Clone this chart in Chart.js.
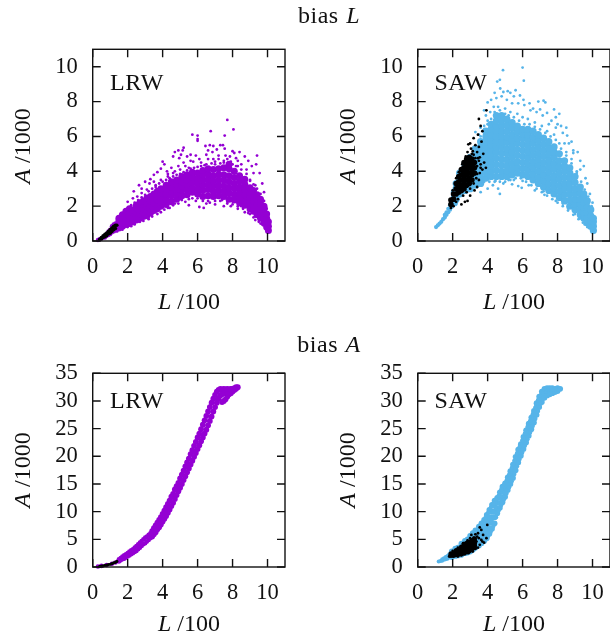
<!DOCTYPE html>
<html>
<head>
<meta charset="utf-8">
<script src="https://cdn.jsdelivr.net/npm/chart.js@4"></script>
<style>
html, body { margin: 0; padding: 0; background: #fff; overflow: hidden; width: 610px; height: 636px; }
canvas { position: absolute; }
.label { position: absolute; font-family: "Liberation Serif", serif; font-size: 24px; color: #111; white-space: nowrap; transform: translate(-50%, -50%); }
.rot { transform: translate(-50%, -50%) rotate(-90deg); }
.tag { font-size: 24px; letter-spacing: 0.6px; }
.head { font-size: 24px; word-spacing: 1px; letter-spacing: 0.5px; }
</style>
</head>
<body>
<canvas id="panel1"></canvas>
<canvas id="panel2"></canvas>
<canvas id="panel3"></canvas>
<canvas id="panel4"></canvas>

<div class="label head" style="left:329px;top:15px">bias <i>L</i></div>
<div class="label head" style="left:329px;top:344px">bias <i>A</i></div>
<div class="label tag" style="left:137px;top:82px">LRW</div>
<div class="label tag" style="left:461px;top:82px">SAW</div>
<div class="label tag" style="left:137px;top:400px">LRW</div>
<div class="label tag" style="left:461px;top:400px">SAW</div>
<div class="label" style="left:189px;top:301px"><i>L</i> /100</div>
<div class="label" style="left:514px;top:301px"><i>L</i> /100</div>
<div class="label" style="left:189px;top:623px"><i>L</i> /100</div>
<div class="label" style="left:514px;top:623px"><i>L</i> /100</div>
<div class="label rot" style="left:22px;top:146px"><i>A</i> /1000</div>
<div class="label rot" style="left:347px;top:146px"><i>A</i> /1000</div>
<div class="label rot" style="left:22px;top:470px"><i>A</i> /1000</div>
<div class="label rot" style="left:347px;top:470px"><i>A</i> /1000</div>

<script>
// Tick labels
const lTicks = [0, 2, 4, 6, 8, 10];
const areaTicksL = [0, 2, 4, 6, 8, 10];
const areaTicksA = [0, 5, 10, 15, 20, 25, 30, 35];

// Colours
const purple = '#9400d3';
const blue = '#56b4e9';
const black = '#000000';

// Dense parts of the clouds, read column by column: [L, [A, A, ...]]
const lrwLTail = [
  [0.3,[.06]],[0.4,[.1]],[0.5,[.15]],[0.6,[.2]],[0.7,[.2,.3]],[0.8,[.3,.4]],[0.9,[.35,.55]],[1.0,[.4,.65]],[1.1,[.5,.7,.85]],[1.2,[.55,.75,.95]],[1.3,[.6,.8,1.0]]
];
const lrwLDense = [
  [1.5,[.75,.95,1.15,1.3]],[1.7,[.85,1.05,1.3,1.5]],[1.9,[.95,1.15,1.35,1.55,1.7]],[2.1,[1.0,1.25,1.45,1.65,1.85]],
  [2.3,[1.1,1.35,1.6,1.8]],[2.5,[1.2,1.4,1.65,1.9,2.05]],[2.7,[1.3,1.55,1.75,2.0,2.2]],[2.9,[1.4,1.6,1.85,2.1,2.3]],
  [3.1,[1.45,1.7,1.95,2.2,2.45]],[3.3,[1.6,1.85,2.05,2.3,2.55]],[3.5,[1.75,2.0,2.2,2.45,2.7]],[3.7,[1.85,2.1,2.35,2.6,2.85]],
  [3.9,[2.0,2.25,2.5,2.75,3.0]],[4.2,[2.1,2.4,2.7,2.95,3.2]],[4.5,[2.25,2.6,2.85,3.1,3.4]],[4.8,[2.4,2.7,3.0,3.25,3.5]],
  [5.1,[2.6,2.9,3.15,3.4,3.7]],[5.4,[2.65,2.95,3.25,3.5,3.8]],[5.7,[2.8,3.05,3.35,3.65,3.95]],[6.0,[2.7,3.0,3.3,3.6,3.9]],
  [6.3,[2.55,2.9,3.2,3.5,3.8,4.05]],[6.6,[2.6,2.95,3.25,3.55,3.85,4.15]],[6.9,[2.55,2.85,3.15,3.45,3.75,4.1]],
  [7.2,[2.6,2.9,3.2,3.5,3.8,4.15]],[7.5,[2.55,2.85,3.15,3.5,3.8,4.2]],[7.8,[2.4,2.75,3.05,3.4,3.75,4.15,4.4]],
  [8.1,[2.35,2.65,3.0,3.3,3.65,4.0]],[8.4,[2.2,2.5,2.8,3.1,3.45,3.75]],[8.7,[2.05,2.35,2.65,2.95,3.25,3.55]],
  [9.0,[1.85,2.15,2.45,2.75,3.05]],[9.2,[1.7,2.0,2.3,2.6,2.9]],[9.4,[1.5,1.8,2.1,2.4,2.65]],[9.6,[1.3,1.55,1.85,2.15,2.4]],
  [9.8,[1.05,1.3,1.6,1.85,2.0]],[9.95,[.8,1.05,1.3,1.55]],[10.05,[.6,.85,1.1]]
];
const lrwLSparse = [
  [7.7,6.95],[8.05,6.4],[6.75,6.3],[7.55,6.05],[5.7,6.1],[6,6.05],[6,5.85],[6,5.75],[5.2,5.35],[5.15,5.2],[4.9,5.2],[4.7,5.1],
  [5.05,4.95],[4.6,4.85],[4.95,4.75],[5.6,4.95],[5.9,4.9],[5.4,4.85],[6.45,5.45],[6.7,5.5],[6.9,5.45],[7.3,5.5],[7.45,5.5],
  [7.55,5.3],[7.1,5.25],[6.6,5.2],[6.85,5.1],[6.5,4.95],[7.2,4.9],[7.6,4.9],[7.85,4.85],[8.0,5.15],[8.1,5.05],[8.4,5.1],
  [8.7,4.85],[9.4,4.9],[8.2,4.75],[8.9,4.6],[9.1,4.3],[9.35,4.4],[9.55,3.9],[9.2,3.9],[9.7,3.3],[9.8,2.8],[4.0,4.55],[4.1,4.4],
  [3.7,3.95],[3.5,3.8],[3.9,4.15],[4.5,4.2],[4.25,4],[3.3,3.55],[3.0,3.4],[3.25,3.3],[2.65,3.2],[2.8,3],[2.35,2.85],[2.8,2.75],
  [3.1,2.95],[2.0,2.25],[2.3,2.45],[2.55,2.55],[3.6,3.2],[3.9,3.5],[4.3,3.7],[4.9,4.3],[5.3,4.3],[5.75,4.55],[6.2,4.5],[6.9,4.7],
  [7.5,4.6],[8.5,4.4],[4.6,3.9],[5.0,4.1],[5.5,4.2],[6.4,4.35],[7.0,4.4],[7.9,4.55],[8.3,4.3],[8.8,4.1],[9.0,3.5],[9.3,3.2],
  [3.2,2.85],[3.4,3.0],[3.6,3.1],[3.8,3.3],[4.0,3.4],[4.2,3.5],[4.4,3.6],[4.6,3.7],[4.8,3.8],[5.0,3.85],[5.2,3.95],[5.4,4.05],
  [5.6,4.15],[5.8,4.2],[6.0,4.25],[6.2,4.3],[6.5,4.4],[6.8,4.45],[7.0,4.55],[7.3,4.45],[7.5,4.5],[7.7,4.7],[8.0,4.4],[8.2,4.3],
  [8.5,4.1],[8.8,3.85],[9.0,3.45],[9.2,3.25],[9.4,3.0],[9.6,2.7],[9.8,2.3],[9.95,1.85],[2.6,2.35],[2.8,2.5],[3.0,2.65],[2.2,2.05],
  [2.4,2.2],[4.3,3.85],[5.6,4.6],[6.6,4.7],[7.2,4.7],[8.3,4.6],[3.5,3.4],[4.7,4.0],[5.2,4.5],[6.1,4.7],
  [2.2,.85],[2.7,1.1],[3.2,1.25],[3.7,1.55],[4.1,1.8],[4.4,1.9],[4.6,2.05],[4.9,2.15],[5.3,2.25],[5.5,2.05],[5.9,2.3],[6.1,1.95],
  [6.35,1.9],[6.5,2.15],[7,2.1],[7.3,2.3],[7.5,2.0],[7.9,2.0],[8.3,1.85],[8.5,2.0],[8.7,1.65],[9,1.55],[9.3,1.2],[9.6,1],
  [5.0,2.4],[5.7,2.45],[6.7,2.2],[7.7,2.25],[8.9,1.75],[2.4,.95],[2.9,1.15],[3.4,1.4],[3.9,1.65],[4.3,1.9],[4.7,2.15],[5.1,2.35],
  [5.5,2.4],[6.0,2.45],[6.3,2.3],[6.6,2.3],[7.0,2.3],[7.4,2.35],[7.7,2.15],[8.0,2.1],[8.3,2.0],[8.6,1.85],[8.9,1.6],[9.2,1.35],
  [9.5,1.1],[9.75,.9],[1.4,.55],[1.7,.65],[2.0,.8]
];
const lrwLEarly = [
  [0.4,[.1]],[0.5,[.12,.2]],[0.6,[.2,.3]],[0.7,[.25,.38]],[0.8,[.3,.45]],[0.9,[.4,.55]],[1.0,[.45,.65]],[1.1,[.55,.75]],[1.2,[.65,.85]],[1.3,[.72,.9]],[1.38,[.9]]
];

const sawLTail = [
  [1.05,[.8]],[1.15,[.9]],[1.25,[1.0]],[1.35,[1.1]],[1.45,[1.25]],[1.55,[1.35,1.5]],[1.65,[1.5,1.65]],[1.75,[1.65,1.85]],[1.85,[1.8,2.05]],[1.95,[1.95,2.25]]
];
const sawLDense = [
  [2.1,[2.2,2.5,2.8]],[2.2,[2.4,2.7,3.0,3.3]],[2.4,[2.7,3.0,3.3,3.6,3.9]],[2.7,[2.9,3.2,3.5,3.8,4.1,4.4]],[3.0,[3.0,3.3,3.6,3.9,4.2,4.5,4.8]],
  [3.3,[3.2,3.5,3.8,4.1,4.4,4.7,5.0,5.3]],[3.6,[3.3,3.6,3.9,4.2,4.5,4.8,5.1,5.4,5.7]],
  [3.9,[3.6,3.9,4.2,4.5,4.8,5.1,5.4,5.7,6.0,6.3]],[4.2,[3.7,4.0,4.3,4.6,4.9,5.2,5.5,5.8,6.1,6.4,6.7]],
  [4.5,[3.7,4.05,4.4,4.75,5.1,5.4,5.7,6.0,6.3,6.6,6.9,7.2]],[4.8,[3.7,4.0,4.35,4.7,5.05,5.4,5.7,6.0,6.3,6.6,6.9,7.2]],
  [5.1,[3.7,4.0,4.3,4.65,5.0,5.3,5.65,5.95,6.3,6.65,7.0]],[5.4,[3.8,4.1,4.45,4.8,5.1,5.45,5.8,6.1,6.45,6.8]],
  [5.7,[3.9,4.2,4.55,4.9,5.25,5.6,5.9,6.25,6.6]],[6.0,[3.8,4.15,4.5,4.85,5.2,5.55,5.9,6.15,6.4]],
  [6.3,[3.7,4.05,4.4,4.75,5.1,5.45,5.8,6.1,6.4]],[6.6,[3.5,3.85,4.2,4.55,4.9,5.25,5.6,5.95,6.3]],
  [6.9,[3.3,3.65,4.0,4.35,4.7,5.05,5.4,5.75,6.1]],[7.2,[3.1,3.45,3.8,4.15,4.5,4.85,5.2,5.55,5.9]],
  [7.5,[2.9,3.25,3.6,3.95,4.3,4.65,5.0,5.35,5.7]],[7.8,[2.7,3.05,3.4,3.75,4.1,4.45,4.8,5.1,5.4]],
  [8.1,[2.5,2.85,3.2,3.55,3.9,4.25,4.6,5.0]],[8.4,[2.3,2.65,3.0,3.3,3.65,4.0,4.3,4.6]],
  [8.7,[2.0,2.35,2.7,3.0,3.3,3.6,3.9,4.2]],[9.0,[1.8,2.1,2.4,2.7,3.0,3.35,3.7]],[9.3,[1.5,1.8,2.1,2.4,2.75,3.1]],
  [9.5,[1.3,1.6,1.9,2.2,2.5,2.7]],[9.7,[1.05,1.35,1.65,1.95,2.3]],[9.9,[.85,1.15,1.45,1.8]],[10.05,[.6,.85,1.1,1.3]]
];
const sawLSparse = [
  [6,9.95],[4.88,9.8],[6.07,9.2],[4.7,9.25],[4.55,9.15],[4.72,8.75],[5.15,8.6],[5.6,8.65],[4.4,8.5],[4.9,8.55],[5.3,8.5],[5.5,8.3],
  [5.85,8.35],[6.05,8.1],[4.2,8.1],[4.0,7.95],[4.5,8.2],[4.8,8.3],[5.1,8.1],[5.4,7.9],[5.75,7.9],[6.1,7.8],[6.4,7.9],[6.6,7.6],
  [7.2,8.05],[7.3,7.95],[6.9,8],[6.45,7.5],[6.8,7.4],[7.0,7.55],[7.15,7.2],[7.4,7.35],[7.8,7.55],[7.9,7.1],[8.1,7.3],[7.65,6.9],
  [8.0,6.7],[7.5,6.7],[7.9,6.5],[8.2,6.6],[8.5,6.5],[8.3,6.2],[8.55,6.05],[8.8,5.7],[8.65,5.6],[9.15,5.1],[8.9,5.05],[8.4,5.6],
  [8.9,5.2],[9.3,4.6],[9.5,4.3],[9.3,4.1],[9.6,3.6],[9.7,3.3],[9.85,2.7],[10,2.2],[3.8,7.5],[3.9,7.2],[4.0,6.9],[3.6,6.5],[3.3,6.25],
  [3.5,6.1],[3.8,6.6],[4.15,7.4],[4.35,7.7],[4.6,7.7],[5.0,7.6],[5.3,7.4],[5.7,7.3],[6.0,7.1],[6.3,7.0],[6.7,6.8],[7.1,6.6],[7.4,6.3],
  [7.8,6.1],[8.1,5.6],[8.5,5.1],[8.8,4.7],[9.1,4.0],[3.6,6.0],[3.8,6.4],[4.0,6.7],[4.2,7.0],[4.4,7.4],[4.7,7.5],[5.0,7.3],[5.2,7.2],
  [5.5,7.1],[5.8,6.9],[6.1,6.7],[6.4,6.7],[6.7,6.55],[7.0,6.4],[7.3,6.2],[7.6,6.0],[7.9,5.8],[8.2,5.3],[8.5,4.9],[8.8,4.45],[9.1,3.9],
  [9.35,3.4],[9.55,2.95],[9.75,2.55],[9.95,2.0],
  [4.7,2.7],[4.6,3],[4.0,3.0],[3.6,2.8],[4.3,3.2],[4.9,3.3],[5.4,3.25],[5.5,3.5],[5.75,3.15],[5.95,3.05],[6.0,3.45],[6.35,3.2],[6.7,2.9],
  [7.2,2.85],[7.25,2.65],[7.6,2.9],[7.9,2.3],[8.3,2.15],[8.15,2.5],[8.6,1.9],[9,1.55],[9.3,1.3],[9.55,.95],[3.4,3.2],[3.7,3.3],[4.45,3.45],
  [5.2,3.5],[6.6,3.4],[7.5,3.0],[8.8,2.0],[9.1,1.7],[3.8,3.4],[4.1,3.4],[4.4,3.4],[4.7,3.4],[5.0,3.4],[5.3,3.5],[5.6,3.6],[5.9,3.6],
  [6.2,3.4],[6.5,3.2],[6.8,3.0],[7.1,2.8],[7.4,2.6],[7.7,2.4],[8.0,2.2],[8.3,2.0],[8.6,1.75],[8.9,1.5],[9.2,1.25],[9.45,1.05],[9.7,.8]
];
const sawLEarlyDense = [
  [1.9,[2.1,2.35]],[2.05,[2.4,2.7]],[2.2,[2.7,3.0,3.3]],[2.35,[2.8,3.1,3.4,3.7]],[2.5,[2.9,3.2,3.5,3.8,4.1]],
  [2.65,[3.0,3.3,3.6,3.9,4.2,4.5]],[2.8,[3.2,3.5,3.8,4.1,4.4,4.7]],[2.95,[3.3,3.6,3.9,4.2,4.5,4.8]],
  [3.1,[3.5,3.8,4.1,4.4,4.7]],[3.25,[3.9,4.2,4.5]]
];
const sawLEarlySparse = [
  [3.93,7.5],[3.5,7],[3.6,6.6],[3.7,6.3],[3.45,6.1],[3.2,5.9],[3.0,5.6],[2.9,5.55],[3.05,5.3],[3.3,5.5],[3.5,5.4],[3.65,5.7],[3.4,5.1],
  [3.75,5.0],[3.55,4.8],[3.8,4.5],[3.6,4.4],[3.4,4.3],[3.9,4.2],[3.7,4.1],[3.55,3.9],[3.35,3.6],[3.2,3.3],[3.4,3.1],[3.0,3.0],[3.25,2.9],
  [2.8,2.8],[3.0,2.6],[2.6,2.6],[2.7,2.25],[2.5,2.1],[2.85,2.3],[2.3,2.4],[2.2,2.25],[2.05,2.0],[1.9,1.9],[2.0,2.9],[3.1,5],[2.85,5.1],
  [2.75,4.85],[3.2,4.95],[3.3,4.75],[3.5,4.6],[3.4,3.85],[2.55,4.4],[2.35,3.95],[2.2,3.6],[3.45,4.75],[3.15,5.15],[3.6,4.2],[3.5,3.5]
];

const lrwATail = [
  [0.3,[.1]],[0.5,[.2]],[0.8,[.35]],[1.1,[.6]],[1.3,[.8]],
  [1.5,[1.0,1.4]],[1.6,[1.2,1.6]],[1.7,[1.4,1.9]],[1.8,[1.5,2.1]],[1.9,[1.7,2.3]],[2.0,[1.9,2.5]],[2.1,[2.1,2.8]],[2.2,[2.3,3.0]],
  [2.3,[2.5,3.2]],[2.4,[2.7,3.5]],[2.5,[2.9,3.8]],[2.6,[3.2,4.1]],[2.7,[3.5,4.4]],[2.8,[3.8,4.7]],[2.9,[4.1,5]],[3,[4.3,5.3]],
  [3.1,[4.6,5.5]],[3.2,[4.9,5.8]],[3.3,[5.2,6.1]]
];
const lrwADense = [
  [3.4,[5.5,6.5]],[3.5,[5.9,7]],[3.6,[6.3,7.5]],[3.7,[6.8,8]],[3.8,[7.2,8.5]],
  [3.9,[7.7,9]],[4,[8.2,9.6]],[4.1,[8.7,10.2]],[4.2,[9.2,10.8]],[4.3,[9.8,11.4]],[4.4,[10.4,12]],[4.5,[11,12.7]],[4.6,[11.6,13.2]],
  [4.7,[12.3,14]],[4.8,[13,14.6]],[4.9,[13.7,15.2]],[5,[14.3,16]],[5.1,[15,16.7]],[5.2,[15.7,17.4]],[5.3,[16.4,18.2]],[5.4,[17.1,18.9]],
  [5.5,[17.8,19.6]],[5.6,[18.5,20.4]],[5.7,[19.2,21.1]],[5.8,[19.9,21.9]],[5.9,[20.6,22.6]],[6,[21.3,23.4]],[6.1,[22,24.1]],
  [6.2,[22.7,24.9]],[6.3,[23.4,25.7]],[6.4,[24.1,26.5]],[6.5,[24.8,27.3]],[6.6,[25.6,28.1]],[6.7,[26.4,28.9]],[6.8,[27.2,29.7]],
  [6.9,[28.1,30.4]],[7,[28.9,31.1]],[7.1,[29.7,31.7]],[7.2,[30.4,32]],[7.3,[31,32.2]],[7.4,[29.8,31.2,32.1]],[7.5,[30,31.4,32.2]],
  [7.6,[30.3,31.5,32.1]],[7.7,[30.8,31.7,32.2]],[7.8,[31.2,32.1]],[7.9,[31.4,32.2]],[8,[31.7,32.2]],[8.1,[32,32.3]],[8.2,[32.2,32.5]],[8.3,[32.5]]
];
const lrwAEarly = [
  [0.4,[.1]],[0.5,[.15]],[0.6,[.2]],[0.7,[.3]],[0.8,[.35]],[0.9,[.45]],[1.0,[.5]],[1.1,[.6]],[1.2,[.75]],[1.3,[.85]],[1.38,[1.0]]
];

const sawATail = [
  [1.2,[1.0]],[1.3,[1.1]],[1.4,[1.15,1.4]],[1.5,[1.3,1.6]],[1.6,[1.4,1.8]],[1.7,[1.5,2.0]],[1.8,[1.7,2.3]]
];
const sawADense = [
  [1.95,[1.8,2.4,2.8]],[2.15,[2,2.6,3.3]],[2.3,[2.1,2.8,3.5]],
  [2.5,[2.2,2.9,3.6,4.2]],[2.7,[2.5,3.2,3.9,4.7]],[2.85,[2.6,3.4,4.2,5.0]],[3,[2.8,3.5,4.3,5.0,5.6]],[3.15,[3.1,3.8,4.6,5.4,6.1]],
  [3.3,[3.5,4.2,5.0,5.8,6.6]],[3.5,[3.9,4.7,5.5,6.4,7.3]],[3.65,[4.3,5.1,6.0,6.9,7.9]],[3.8,[4.7,5.6,6.5,7.4,8.5]],
  [3.95,[5.2,6.2,7.2,8.2,9.4]],[4.1,[6.0,7.0,8.0,9.0,10.3]],[4.25,[6.9,8.0,9.0,10.0,11.2]],[4.4,[7.9,9.0,10.0,11.0,12.0]],
  [4.55,[9.7,10.6,11.6,12.5]],[4.7,[10.7,11.6,12.6,13.5]],[4.85,[11.7,12.6,13.6,14.5]],[5,[12.7,13.5,14.3,15.1]],
  [5.15,[13.9,14.7,15.5,16.2]],[5.3,[15,15.8,16.6,17.3]],[5.45,[16.1,16.9,17.7,18.5]],[5.6,[17.5,18.3,19.1,19.9]],[5.75,[18.9,19.7,20.5,21.2]],
  [5.9,[20.1,20.8,21.5,22.2]],[6.05,[21.3,22,22.8,23.5]],[6.2,[22.5,23.2,24,24.7]],[6.35,[23.7,24.4,25.2,25.9]],[6.5,[24.9,25.6,26.3,27]],
  [6.65,[26.1,26.8,27.5,28.2]],[6.8,[27.5,28.2,28.9,29.6]],[6.95,[28.9,29.6,30.2,30.8]],[7.1,[29.8,30.5,31.1,31.7]],[7.25,[30.6,31.4,32.2]],
  [7.4,[31,31.8,32.3]],[7.55,[31.2,32,32.3]],[7.7,[31.4,32.1,32.3]],[7.85,[31.6,32.2]],[8,[31.8,32.3]],[8.15,[32.2]]
];
// Points along both edges of the band, between the columns above
const sawAEdges = [
  [3.58,7.5],[3.72,8.1],[3.88,8.9],[4.03,9.8],[4.18,10.7],[4.33,11.5],[4.48,12.2],[4.63,12.9],[4.78,14],[4.93,14.8],[5.08,15.6],[5.23,16.7],
  [5.38,17.9],[5.53,19.2],[5.68,20.5],[5.83,21.7],[5.98,22.8],[6.13,24.1],[6.28,25.3],[6.43,26.4],[6.58,27.6],[6.73,28.8],[6.88,30.1],
  [3.08,2.9],[3.23,3.3],[3.4,3.7],[3.58,4.1],[3.72,4.5],[3.88,4.9],[4.03,5.6],[4.18,6.4],[4.33,7.4],[4.48,9],[4.63,10.2],[4.78,11.2],
  [4.93,12.2],[5.08,13.3],[5.23,14.4],[5.38,15.5],[5.53,16.8],[5.68,18.2],[5.83,19.5],[5.98,20.7],[6.13,21.9],[6.28,23.1],[6.43,24.3],
  [6.58,25.5],[6.73,26.8],[6.88,28.2],[7.03,29.5],[7.18,30.4]
];
const sawAEarlyDense = [
  [1.9,[2.1,2.4]],[2.05,[2.1,2.5]],[2.2,[2.2,2.6,3]],[2.35,[2.3,2.7,3.1]],[2.5,[2.4,2.8,3.2,3.6]],[2.65,[2.5,2.9,3.3,3.7,4.1]],
  [2.8,[2.7,3.1,3.5,3.9,4.3]],[2.95,[2.9,3.3,3.7,4.1,4.5]],[3.1,[3.2,3.6,4,4.4,4.8]],[3.25,[3.5,3.9,4.3,4.7,5.1]]
];
const sawAEarlySparse = [
  [3.98,7.6],[3.55,7.15],[3.64,6.7],[3.45,6.1],[3.07,5.8],[3.74,5.8],[3.64,4.9],[3.93,5.2],[3.36,4.6],[3.55,4],[3.26,3.7],[3.07,3],
  [2.7,2.5],[3.4,5.5],[3.3,5.9],[3.2,5.3],[3.5,5.2],[3.7,4.6],[3.8,4.4],[3.45,3.5],[3.3,3.3],[3.15,2.8],[2.9,2.5],[2.5,2.1],[2.3,1.9],
  [1.8,1.9],[2.0,2.9],[2.3,3.5],[2.6,4.3],[2.85,4.8],[3.0,5.2]
];

// Turn the read-off lists into points for the scatter datasets
function fromColumns(cols) {
  return cols.flatMap(col => col[1].map(a => ({ x: col[0], y: a })));
}
function fromPairs(pairs) {
  return pairs.map(p => ({ x: p[0], y: p[1] }));
}
function cloud(points, color, radius) {
  return { data: points, backgroundColor: color, borderWidth: 0, pointRadius: radius, pointHoverRadius: radius };
}

// Frame and inward ticks on all four sides, like the original plot
const frame = {
  id: 'frame',
  afterDatasetsDraw(chart) {
    const { ctx, chartArea: a, scales } = chart;
    ctx.save();
    ctx.strokeStyle = '#111';
    ctx.lineWidth = 1.4;
    ctx.beginPath();
    scales.x.ticks.forEach(t => {
      const x = scales.x.getPixelForValue(t.value);
      ctx.moveTo(x, a.bottom); ctx.lineTo(x, a.bottom - 8);
      ctx.moveTo(x, a.top); ctx.lineTo(x, a.top + 8);
    });
    scales.y.ticks.forEach(t => {
      const y = scales.y.getPixelForValue(t.value);
      ctx.moveTo(a.left, y); ctx.lineTo(a.left + 8, y);
      ctx.moveTo(a.right, y); ctx.lineTo(a.right - 8, y);
    });
    ctx.stroke();
    ctx.strokeRect(a.left, a.top, a.right - a.left, a.bottom - a.top);
    ctx.restore();
  }
};

// left/top place the canvas, plotLeft/plotTop/plotHeight place the frame inside it
function drawPanel(id, left, top, plotLeft, plotTop, plotHeight, yMax, yTicks, datasets) {
  const canvas = document.getElementById(id);
  const width = plotLeft + 192.6 + 24;
  const height = plotTop + plotHeight + 70;
  canvas.width = width;
  canvas.height = height;
  canvas.style.left = left + 'px';
  canvas.style.top = top + 'px';
  const tickFont = { family: '"Liberation Serif", serif', size: 22.5 };
  new Chart(canvas.getContext('2d'), {
    type: 'scatter',
    data: { datasets: datasets },
    options: {
      responsive: false,
      animation: false,
      clip: false,
      layout: { padding: { left: 0, top: plotTop, right: 24, bottom: 0 } },
      plugins: { legend: { display: false }, tooltip: { enabled: false } },
      scales: {
        x: {
          type: 'linear', min: 0, max: 11,
          afterBuildTicks: ax => { ax.ticks = lTicks.map(v => ({ value: v })); },
          afterFit: s => { s.height = 70; },
          grid: { display: false, drawTicks: false },
          border: { display: false },
          ticks: { font: tickFont, color: '#111', padding: 13, maxRotation: 0, autoSkip: false }
        },
        y: {
          type: 'linear', min: 0, max: yMax,
          afterBuildTicks: ax => { ax.ticks = yTicks.map(v => ({ value: v })); },
          afterFit: s => { s.width = plotLeft; },
          grid: { display: false, drawTicks: false },
          border: { display: false },
          ticks: { font: tickFont, color: '#111', padding: 15, autoSkip: false }
        }
      }
    },
    plugins: [frame]
  });
}

// Earlier datasets are painted on top, so the black points go first
drawPanel('panel1', 0, 0, 92.7, 49.3, 192.4, 11, areaTicksL, [
  cloud(fromColumns(lrwLEarly), black, 1.8),
  cloud(fromPairs(lrwLSparse), purple, 1.4),
  cloud(fromColumns(lrwLTail), purple, 2.2),
  cloud(fromColumns(lrwLDense), purple, 3.5)
]);
drawPanel('panel2', 305, 0, 112.7, 49.3, 192.4, 11, areaTicksL, [
  cloud(fromPairs(sawLEarlySparse), black, 1.4),
  cloud(fromColumns(sawLEarlyDense), black, 2.8),
  cloud(fromPairs(sawLSparse), blue, 1.4),
  cloud(fromColumns(sawLTail), blue, 2.1),
  cloud(fromColumns(sawLDense), blue, 3.6)
]);
drawPanel('panel3', 0, 320, 92.7, 53.3, 193.7, 35, areaTicksA, [
  cloud(fromColumns(lrwAEarly), black, 1.6),
  cloud(fromColumns(lrwATail), purple, 2.3),
  cloud(fromColumns(lrwADense), purple, 2.9)
]);
drawPanel('panel4', 305, 320, 112.7, 53.3, 193.7, 35, areaTicksA, [
  cloud(fromPairs(sawAEarlySparse), black, 1.4),
  cloud(fromColumns(sawAEarlyDense), black, 2.5),
  cloud(fromPairs(sawAEdges), blue, 2.2),
  cloud(fromColumns(sawATail), blue, 2),
  cloud(fromColumns(sawADense), blue, 2.9)
]);
</script>
</body>
</html>
